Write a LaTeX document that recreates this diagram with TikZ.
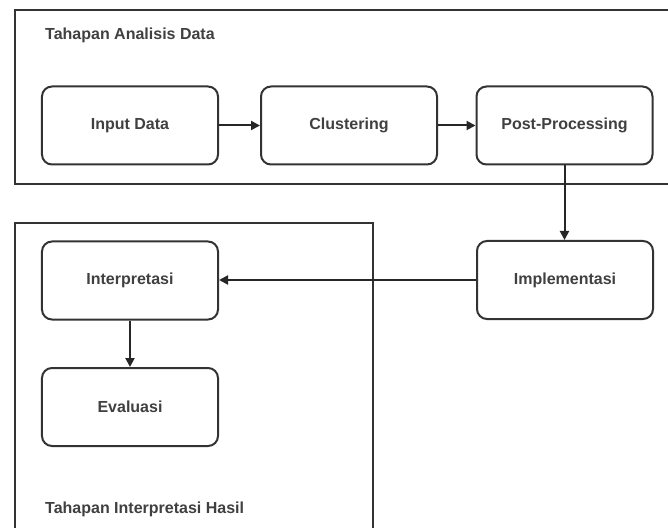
\documentclass[tikz,border=0pt]{standalone}
\usepackage{fontspec}
\setmainfont{Liberation Sans}
\usetikzlibrary{arrows.meta}
\tikzset{
  frame/.style={draw=black!80, line width=2bp, rectangle, inner sep=0pt},
  stepbox/.style={draw=black!80, line width=2bp, rectangle, rounded corners=10bp,
    minimum width=176bp, minimum height=78bp, inner sep=0pt, font=\bfseries\fontsize{16bp}{19bp}\selectfont, text=black!75},
  title/.style={anchor=west, inner sep=0pt, font=\bfseries\fontsize{16bp}{19bp}\selectfont, text=black!75},
  conn/.style={draw=black!85, line width=2bp, -{Triangle[length=9bp,width=9bp]}}
}
\begin{document}
\begin{tikzpicture}[x=1bp,y=-1bp]
\useasboundingbox (0,0) rectangle (668,528);
\clip (0,0) rectangle (668,528);
\fill[white] (0,0) rectangle (668,528);
% containers
\node[frame, minimum width=686bp, minimum height=174bp, anchor=north west] (topframe) at (14,9) {};
\node[frame, minimum width=358bp, minimum height=330bp, anchor=north west] (botframe) at (14,222) {};
\node[title] (t1) at (45,35) {Tahapan Analisis Data};
\node[title] (t2) at (45,509) {Tahapan Interpretasi Hasil};
% steps
\node[stepbox] (input) at (130,125.5) {Input Data};
\node[stepbox] (clust) at (349,125.5) {Clustering};
\node[stepbox] (post) at (564.5,125.5) {Post-Processing};
\node[stepbox] (impl) at (565,280) {Implementasi};
\node[stepbox] (interp) at (130,280.5) {Interpretasi};
\node[stepbox] (eval) at (130,407) {Evaluasi};
% connectors
\draw[conn] (input) -- (clust);
\draw[conn] (clust) -- (post);
\draw[conn] (post.south) -- (post.south |- impl.north);
\draw[conn] (impl.west) -- (interp.east |- impl.west);
\draw[conn] (interp) -- (eval);
\end{tikzpicture}
\end{document}
